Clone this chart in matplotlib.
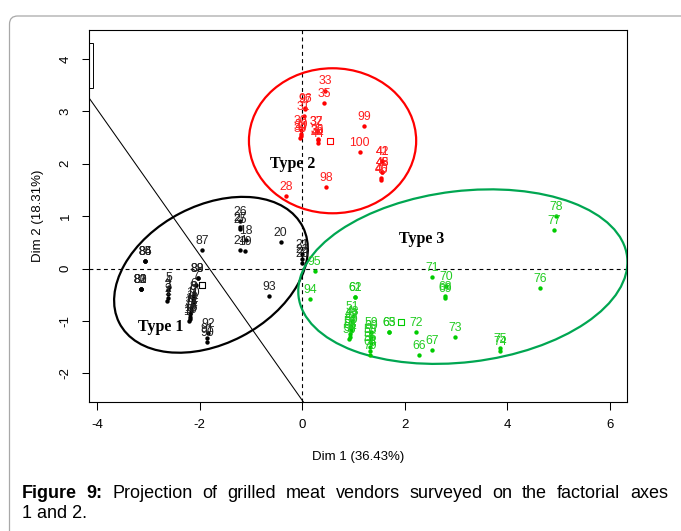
import matplotlib
matplotlib.use("Agg")
import matplotlib.pyplot as plt
from matplotlib.patches import Ellipse, Rectangle, FancyBboxPatch

plt.rcParams['axes.unicode_minus'] = False
SANS = ['Liberation Sans', 'DejaVu Sans']
SERIF = ['Liberation Serif', 'DejaVu Serif']

# individuals of the PCA, one list per vendor type
type1_labels = [84, 85, 86, 80, 81, 82, 83, 1, 2, 3, 4, 5, 7, 88, 89,
                6, 8, 9, 10, 11, 12, 13, 14, 15, 16, 17, 90, 91, 92,
                25, 27, 26, 18, 24, 19, 20, 23, 22, 21, 87, 93]
type1_x = [-3.06, -3.06, -3.06, -3.15, -3.15, -3.15, -3.15,
           -2.63, -2.62, -2.61, -2.61, -2.60, -2.07, -2.04, -2.04,
           -2.12, -2.13, -2.14, -2.14, -2.15, -2.16, -2.17, -2.18, -2.18, -2.19, -2.20,
           -1.86, -1.85, -1.83, -1.22, -1.22, -1.21, -1.10, -1.22, -1.12,
           -0.42, -0.01, -0.01, -0.01, -1.96, -0.65]
type1_y = [0.15, 0.15, 0.15, -0.40, -0.40, -0.40, -0.40,
           -0.63, -0.56, -0.49, -0.42, -0.35, -0.31, -0.19, -0.19,
           -0.47, -0.53, -0.59, -0.64, -0.70, -0.76, -0.82, -0.87, -0.92, -0.96, -1.00,
           -1.40, -1.32, -1.24, 0.75, 0.80, 0.90, 0.54, 0.35, 0.33,
           0.50, 0.10, 0.18, 0.27, 0.36, -0.53]

type2_labels = [33, 35, 96, 97, 31, 30, 29, 34, 39, 32, 37, 36, 38, 44,
                99, 100, 41, 42, 43, 45, 40, 46, 98, 28]
type2_x = [0.44, 0.43, 0.06, 0.05, 0.03, -0.03, -0.03, -0.03, -0.04,
           0.28, 0.28, 0.30, 0.30, 0.30, 1.21, 1.12, 1.56, 1.56, 1.56, 1.56,
           1.54, 1.54, 0.47, -0.32]
type2_y = [3.40, 3.17, 3.07, 3.04, 2.92, 2.64, 2.57, 2.53, 2.50,
           2.63, 2.63, 2.47, 2.45, 2.40, 2.73, 2.23, 2.05, 2.05, 1.84, 1.84,
           1.72, 1.70, 1.56, 1.39]

type3_labels = [95, 94, 61, 62, 51, 48, 49, 47, 50, 52, 53, 54, 55,
                59, 60, 58, 57, 56, 64, 79, 65, 63, 72, 66, 67, 73, 71,
                70, 68, 69, 76, 75, 74, 78, 77]
type3_x = [0.24, 0.15, 1.03, 1.03, 0.98, 0.97, 0.96, 0.95, 0.95, 0.94, 0.93, 0.93, 0.92,
           1.34, 1.34, 1.33, 1.33, 1.32, 1.32, 1.32, 1.70, 1.70, 2.22, 2.28, 2.53, 2.98, 2.53,
           2.80, 2.78, 2.78, 4.64, 3.86, 3.86, 4.94, 4.91]
type3_y = [-0.04, -0.59, -0.55, -0.55, -0.90, -1.00, -1.05, -1.10, -1.15, -1.20, -1.25, -1.30, -1.34,
           -1.22, -1.28, -1.35, -1.42, -1.50, -1.58, -1.66, -1.21, -1.21, -1.21, -1.66, -1.55, -1.30, -0.16,
           -0.34, -0.53, -0.56, -0.37, -1.52, -1.58, 1.01, 0.74]

# group barycentres (open squares)
centroid_x = [-1.96, 0.54, 1.92]
centroid_y = [-0.31, 2.43, -1.03]

group_names = ['Type 1', 'Type 2', 'Type 3']
x_ticks = [-4, -2, 0, 2, 4, 6]
y_ticks = [-2, -1, 0, 1, 2, 3, 4]
x_title = 'Dim 1 (36.43%)'
y_title = 'Dim 2 (18.31%)'
caption_lead = 'Figure 9:'
caption_line1 = 'Projection of grilled meat vendors surveyed on the factorial axes'
caption_line2 = '1 and 2.'

point_colors = ['black', '#ff0000', '#00cc00']
label_colors = ['#222222', '#ff2020', '#22cc22']
ellipse_colors = ['black', '#ff0000', '#00a651']

# hand drawn ellipses: centre, width, height, angle
ellipses = [((-1.78, -0.12), 4.02, 2.64, 27),
            ((0.59, 2.44), 3.26, 2.77, 0),
            ((3.13, -0.155), 6.45, 3.27, 6.7)]
name_pos = [(-2.75, -1.12), (-0.19, 1.99), (2.32, 0.57)]

W, H = 681, 531
fig = plt.figure(figsize=(W / 100, H / 100), dpi=100)

# rounded frame around the figure
fig.patches.append(FancyBboxPatch(
    (9.5 / W, -0.1), 1.2, (H - 16) / H + 0.1,
    boxstyle="round,pad=0,rounding_size=0.012", mutation_aspect=W / H,
    transform=fig.transFigure, facecolor='none', edgecolor='#a8a8a8', lw=0.9))

ax = fig.add_axes([89 / W, 1 - 402 / H, (627 - 89) / W, (402 - 30) / H])
ax.set_xlim(-4.158, 6.33)
ax.set_ylim(-2.55, 4.556)

ax.axhline(0, color='black', lw=0.8, ls=(0, (3.5, 3)))
ax.axvline(0, color='black', lw=0.8, ls=(0, (3.5, 3)))
ax.axline((-4.158, 3.26), (0.0, -2.52), color='black', lw=0.75)
ax.add_patch(Rectangle((-4.158, 3.44), 0.072, 0.86, fill=False, lw=0.7,
                       edgecolor='black', clip_on=False))

groups = [(type1_labels, type1_x, type1_y),
          (type2_labels, type2_x, type2_y),
          (type3_labels, type3_x, type3_y)]
for g, (labs, xs, ys) in enumerate(groups):
    ax.scatter(xs, ys, s=10, color=point_colors[g], linewidths=0, zorder=3)
    for lab, x, y in sorted(zip(labs, xs, ys)):
        ax.annotate(str(lab), (x, y), xytext=(0, 6.5), textcoords='offset points',
                    ha='center', va='center', fontsize=8.8, family=SANS,
                    color=label_colors[g], zorder=4)
    ax.scatter(centroid_x[g], centroid_y[g], marker='s', s=16, facecolor='white',
               edgecolor=point_colors[g], linewidths=0.8, zorder=3)
    (cx, cy), w, h, ang = ellipses[g]
    ax.add_patch(Ellipse((cx, cy), w, h, angle=ang, fill=False,
                         edgecolor=ellipse_colors[g], lw=1.6, zorder=2))
    ax.text(name_pos[g][0], name_pos[g][1], group_names[g], family=SERIF,
            weight='bold', fontsize=11.5, ha='center', va='center', zorder=5)

ax.set_xticks(x_ticks)
ax.set_yticks(y_ticks)
ax.tick_params(direction='out', length=5.4, width=0.75, labelsize=9.5, pad=7)
ax.tick_params(axis='y', labelrotation=90)
for lbl in ax.get_xticklabels() + ax.get_yticklabels():
    lbl.set_family(SANS)
for lbl in ax.get_yticklabels():
    lbl.set_va('center')
for s in ax.spines.values():
    s.set_linewidth(0.8)

ax.set_xlabel(x_title, family=SANS, fontsize=9.5, va='center')
ax.xaxis.set_label_coords(0.5, -(457 - 402) / 372)
ax.set_ylabel(y_title, family=SANS, fontsize=9.5, va='center')
ax.yaxis.set_label_coords((38 - 89) / 538, 0.5)

# caption: first line justified between the frame margins
fig.canvas.draw()
r = fig.canvas.get_renderer()
cap_size = 13
left_px, right_px = 22, 668
words = [(w, 'bold') for w in caption_lead.split()] + \
        [(w, 'normal') for w in caption_line1.split()]
items = []
for w, wt in words:
    t = fig.text(0, 1 - 494 / H, w, family=SANS, weight=wt, fontsize=cap_size, va='center')
    items.append((t, t.get_window_extent(r).width))
gap = (right_px - left_px - sum(wd for _, wd in items)) / (len(items) - 1)
pos = left_px
for t, wd in items:
    t.set_x(pos / W)
    pos += wd + gap
fig.text(left_px / W, 1 - 514 / H, caption_line2, family=SANS, fontsize=cap_size, va='center')

fig.savefig('out.png', dpi=100)
